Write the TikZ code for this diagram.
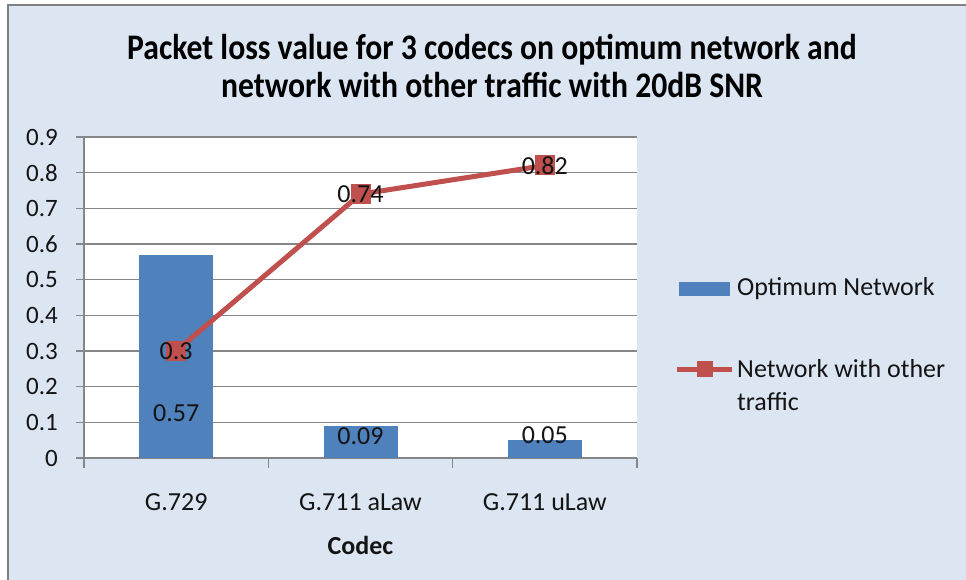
\documentclass[tikz,border=0pt]{standalone}
\usepackage{fontspec}
\setmainfont{Carlito}
\newfontfamily\titlefont[FakeStretch=0.88]{Carlito}
\definecolor{bgblue}{HTML}{DCE6F2}
\definecolor{barblue}{HTML}{4F81BD}
\definecolor{linered}{HTML}{C0504D}
\definecolor{gridgray}{HTML}{868686}
\definecolor{bordergray}{HTML}{808080}
\definecolor{txt}{HTML}{141414}
\tikzset{
  lbl/.style={font=\fontsize{26}{30}\selectfont, text=txt, inner sep=0pt},
  ticklbl/.style={font=\fontsize{25}{30}\selectfont, text=txt, inner sep=0pt, anchor=east},
  gridline/.style={draw=gridgray, line width=1.2pt},
  bar/.style={fill=barblue, draw=none},
  serline/.style={draw=linered, line width=5pt, line join=round},
  marker/.style={fill=linered, draw=none, minimum size=20pt, inner sep=0pt, rectangle}
}
\begin{document}
\begin{tikzpicture}[x=1pt,y=-1pt]
\useasboundingbox (0,0) rectangle (966,580);
\fill[white] (0,0) rectangle (966,580);
\fill[bgblue] (8,5) rectangle (966,580);
\draw[bordergray, line width=2.5pt] (8,580) -- (8,5) -- (966,5);
% title
\node[font=\titlefont\bfseries\fontsize{36}{38}\selectfont, text=black, align=center] (title) at (492,66) {Packet loss value for 3 codecs on optimum network and\\network with other traffic with 20dB SNR};
% plot area
\fill[white] (84,137) rectangle (637,458);
\foreach \i in {1,...,9} {
  \draw[gridline] (76,{458-35.667*\i}) -- (637,{458-35.667*\i});
}
\draw[gridline] (84,137) -- (84,468);
\draw[gridline] (76,458) -- (637,458);
\foreach \xx in {268.3,452.7,637} {
  \draw[gridline] (\xx,458) -- (\xx,468);
}
% y tick labels
\foreach \i/\t in {0/0,1/0.1,2/0.2,3/0.3,4/0.4,5/0.5,6/0.6,7/0.7,8/0.8,9/0.9} {
  \node[ticklbl] (yt\i) at (58,{458-35.667*\i}) {\t};
}
% bars
\fill[bar] (139.2,458) rectangle (213.2,254.7);
\fill[bar] (323.5,458) rectangle (397.5,425.9);
\fill[bar] (507.8,458) rectangle (581.8,440.2);
\node[lbl] (b1) at (176.2,413) {0.57};
\node[lbl] (b2) at (360.5,436) {0.09};
\node[lbl] (b3) at (544.8,435) {0.05};
% line series
\coordinate (p1) at (176.2,351);
\coordinate (p2) at (360.5,194.1);
\coordinate (p3) at (544.8,165.5);
\draw[serline] (p1) -- (p2) -- (p3);
\node[marker] (m1) at (p1) {};
\node[marker] (m2) at (p2) {};
\node[marker] (m3) at (p3) {};
\node[lbl] (l1) at (p1) {0.3};
\node[lbl] (l2) at (p2) {0.74};
\node[lbl] (l3) at (p3) {0.82};
% category labels
\node[lbl] (c1) at (176.2,502) {G.729};
\node[lbl] (c2) at (360.5,502) {G.711 aLaw};
\node[lbl] (c3) at (544.8,502) {G.711 uLaw};
\node[lbl, font=\bfseries\fontsize{26}{30}\selectfont] (xtitle) at (360.5,545) {Codec};
% legend
\fill[bar] (679,282) rectangle (730,296);
\node[lbl, anchor=west] (leg1) at (737,289) {Optimum Network};
\coordinate (la) at (677,369);
\coordinate (lb) at (732,369);
\draw[serline] (la) -- (lb);
\node[marker, minimum size=16pt] (lm) at (705,369) {};
\node[lbl, anchor=north west, align=left, font=\fontsize{26}{33}\selectfont] (leg2) at (737,359) {Network with other\\traffic};
\end{tikzpicture}
\end{document}
